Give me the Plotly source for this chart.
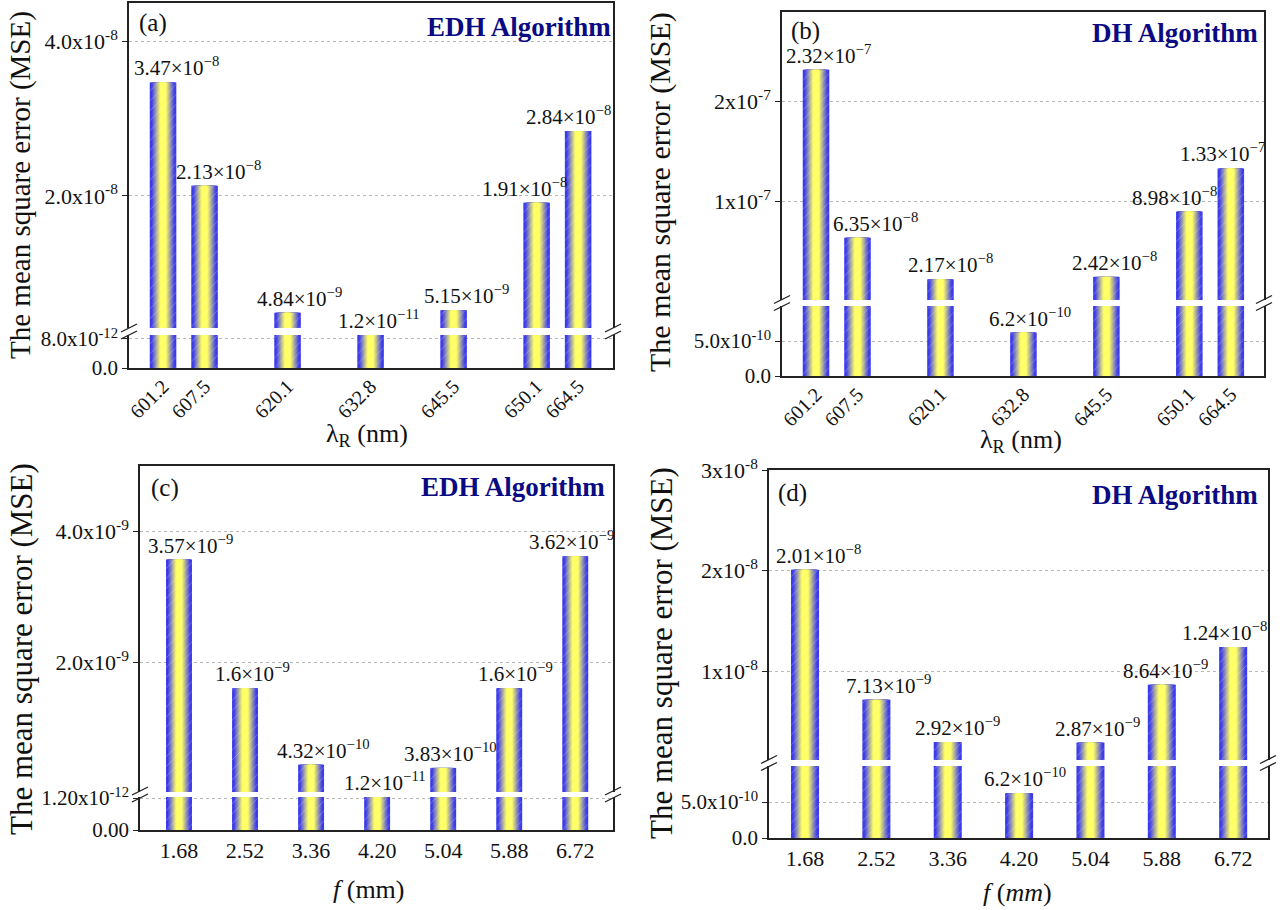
import math
import plotly.graph_objects as go

# ---------------- data ----------------
WAVELENGTH_LABELS = ["601.2", "607.5", "620.1", "632.8", "645.5", "650.1", "664.5"]
FOCAL_LENGTHS = [1.68, 2.52, 3.36, 4.20, 5.04, 5.88, 6.72]

MSE_EDH_WAVELENGTH = [3.47e-8, 2.13e-8, 4.84e-9, 1.2e-11, 5.15e-9, 1.91e-8, 2.84e-8]
MSE_DH_WAVELENGTH = [2.32e-7, 6.35e-8, 2.17e-8, 6.2e-10, 2.42e-8, 8.98e-8, 1.33e-7]
MSE_EDH_FOCAL = [3.57e-9, 1.6e-9, 4.32e-10, 1.2e-11, 3.83e-10, 1.6e-9, 3.62e-9]
MSE_DH_FOCAL = [2.01e-8, 7.13e-9, 2.92e-9, 6.2e-10, 2.87e-9, 8.64e-9, 1.24e-8]

YTICKS_A_UPPER = [2e-8, 4e-8]
YTEXT_A_UPPER = ["2.0x10<sup>-8</sup>", "4.0x10<sup>-8</sup>"]
YTICKS_A_LOWER = [0, 8e-12]
YTEXT_A_LOWER = ["0.0", "8.0x10<sup>-12</sup>"]

YTICKS_B_UPPER = [1e-7, 2e-7]
YTEXT_B_UPPER = ["1x10<sup>-7</sup>", "2x10<sup>-7</sup>"]
YTICKS_B_LOWER = [0, 5e-10]
YTEXT_B_LOWER = ["0.0", "5.0x10<sup>-10</sup>"]

YTICKS_C_UPPER = [2e-9, 4e-9]
YTEXT_C_UPPER = ["2.0x10<sup>-9</sup>", "4.0x10<sup>-9</sup>"]
YTICKS_C_LOWER = [0, 1.2e-12]
YTEXT_C_LOWER = ["0.00", "1.20x10<sup>-12</sup>"]

YTICKS_D_UPPER = [1e-8, 2e-8, 3e-8]
YTEXT_D_UPPER = ["1x10<sup>-8</sup>", "2x10<sup>-8</sup>", "3x10<sup>-8</sup>"]
YTICKS_D_LOWER = [0, 5e-10]
YTEXT_D_LOWER = ["0.0", "5.0x10<sup>-10</sup>"]

# ---------------- layout helpers ----------------
W, H = 1280, 910
FONT = "Liberation Serif"
NAVY = "#0a0a82"
BLUE = (58, 58, 238)
YELLOW = (255, 255, 100)

# wavelength bars sit on an uneven slot grid
WAVELENGTH_SLOTS = [0, 0.5, 1.5, 2.5, 3.5, 4.5, 5.0]


def px_x(p):
    return p / W


def px_y(p):
    return 1 - p / H


def value_label(v):
    e = math.floor(math.log10(v))
    m = v / 10 ** e
    return f"{m:.3g}\u00d710<sup>\u2212{-e}</sup>"


PANELS = [
    dict(tag="(a)", algo="EDH Algorithm", xs=WAVELENGTH_SLOTS, xtext=WAVELENGTH_LABELS,
         values=MSE_EDH_WAVELENGTH, box=(129, 613, 3, 368), lower_top=335, upper_bottom=328,
         lower_range=(0, 9.1e-12), upper_range=(2.86e-9, 4.5e-8),
         lower_ticks=(YTICKS_A_LOWER, YTEXT_A_LOWER), upper_ticks=(YTICKS_A_UPPER, YTEXT_A_UPPER),
         xrange=(-0.41, 5.42), bar_w=0.32, tickangle=-45, xtickfont=20, standoff=-3,
         label_dx=[13, 14, 12, 8, 13, -12, -10],
         xtitle="\u03bb<sub>R</sub> (nm)", xtitle_pos=(367, 435), ytitle_pos=(21, 185), yfont=29,
         grid="dot", tag_pos=(137, 23), algo_pos=(613, 27)),
    dict(tag="(b)", algo="DH Algorithm", xs=WAVELENGTH_SLOTS, xtext=WAVELENGTH_LABELS,
         values=MSE_DH_WAVELENGTH, box=(782, 1264, 12, 376), lower_top=306, upper_bottom=300,
         lower_range=(0, 1.0e-9), upper_range=(1.0e-9, 2.9e-7),
         lower_ticks=(YTICKS_B_LOWER, YTEXT_B_LOWER), upper_ticks=(YTICKS_B_UPPER, YTEXT_B_UPPER),
         xrange=(-0.41, 5.40), bar_w=0.32, tickangle=-45, xtickfont=20, standoff=-3,
         label_dx=[12, 18, 10, 7, 8, -15, -8],
         xtitle="\u03bb<sub>R</sub> (nm)", xtitle_pos=(1021, 441), ytitle_pos=(660, 192), yfont=30,
         grid="dot", tag_pos=(789, 31), algo_pos=(1260, 33)),
    dict(tag="(c)", algo="EDH Algorithm", xs=FOCAL_LENGTHS, xtext=[f"{f:.2f}" for f in FOCAL_LENGTHS],
         values=MSE_EDH_FOCAL, box=(140, 613, 466, 830), lower_top=797, upper_bottom=792,
         lower_range=(0, 1.24e-12), upper_range=(1.5e-11, 5.0e-9),
         lower_ticks=(YTICKS_C_LOWER, YTEXT_C_LOWER), upper_ticks=(YTICKS_C_UPPER, YTEXT_C_UPPER),
         xrange=(1.184, 7.20), bar_w=0.33, tickangle=0, xtickfont=22, standoff=0,
         label_dx=[11, 7, 12, 8, 7, 6, -4],
         xtitle="<i>f</i> (mm)", xtitle_pos=(369, 889), ytitle_pos=(21, 649), yfont=31,
         grid="dot", tag_pos=(149, 488), algo_pos=(607, 487)),
    dict(tag="(d)", algo="DH Algorithm", xs=FOCAL_LENGTHS, xtext=[f"{f:.2f}" for f in FOCAL_LENGTHS],
         values=MSE_DH_FOCAL, box=(769, 1268, 470, 838), lower_top=766, upper_bottom=760,
         lower_range=(0, 1.0e-9), upper_range=(1.14e-9, 3.003e-8),
         lower_ticks=(YTICKS_D_LOWER, YTEXT_D_LOWER), upper_ticks=(YTICKS_D_UPPER, YTEXT_D_UPPER),
         xrange=(1.256, 7.13), bar_w=0.33, tickangle=0, xtickfont=22, standoff=0,
         label_dx=[13, 12, 10, 6, 7, 4, -9],
         xtitle="<i>f</i> (<i>mm</i>)", xtitle_pos=(1017, 892), ytitle_pos=(661, 653), yfont=31,
         grid="3px,3px", tag_pos=(776, 493), algo_pos=(1260, 495)),
]

N_LAYERS = 14

fig = go.Figure()
layout = dict(width=W, height=H,
              margin=dict(l=0, r=0, t=0, b=0, pad=0, autoexpand=False),
              showlegend=False, paper_bgcolor="white", plot_bgcolor="white", barmode="overlay",
              font=dict(family=FONT, color="#111", size=20))
annotations = []
shapes = []


def axis_key(kind, n):
    return f"{kind}axis" if n == 1 else f"{kind}axis{n}"


def ref(kind, n):
    return kind if n == 1 else f"{kind}{n}"


for i, p in enumerate(PANELS):
    lo, up = 2 * i + 1, 2 * i + 2
    x0, x1, ytop, ybot = p["box"]
    xdom = [px_x(x0), px_x(x1)]
    lower_dom = [px_y(ybot), px_y(p["lower_top"])]
    upper_dom = [px_y(p["upper_bottom"]), px_y(ytop)]

    for n in (lo, up):
        # gradient body: nested bars from blue edges to a yellow core
        for k in range(N_LAYERS):
            t = 1 - k / N_LAYERS
            s = min(1.0, max(0.0, (t - 0.25) / 0.65))
            col = tuple(int(YELLOW[c] * (1 - s) + BLUE[c] * s) for c in range(3))
            fig.add_trace(go.Bar(
                x=p["xs"], y=p["values"], width=p["bar_w"] * t,
                marker=dict(color=f"rgb{col}", line=dict(width=0)),
                xaxis=ref("x", n), yaxis=ref("y", n), hoverinfo="skip"))
        # diagonal hatching on top
        fig.add_trace(go.Bar(
            x=p["xs"], y=p["values"], width=p["bar_w"],
            marker=dict(color="rgba(0,0,0,0)", line=dict(width=0),
                        pattern=dict(shape="/", fgcolor="rgba(255,255,255,0.6)",
                                     size=7, solidity=0.12)),
            xaxis=ref("x", n), yaxis=ref("y", n), hoverinfo="skip"))

    layout[axis_key("x", lo)] = dict(
        domain=xdom, anchor=ref("y", lo), range=list(p["xrange"]),
        tickvals=p["xs"], ticktext=p["xtext"], tickangle=p["tickangle"],
        tickfont=dict(family=FONT, size=p["xtickfont"], color="#111"),
        ticklabelstandoff=p["standoff"],
        showline=True, linecolor="#222", linewidth=1.5,
        mirror=False, showgrid=False, zeroline=False, ticks="")
    layout[axis_key("x", up)] = dict(
        domain=xdom, anchor=ref("y", up), matches=ref("x", lo), side="top",
        showticklabels=False, showline=True, linecolor="#222", linewidth=1.5,
        mirror=False, showgrid=False, zeroline=False, ticks="")
    for n, rng, (tv, tt), dom, fs in ((lo, p["lower_range"], p["lower_ticks"], lower_dom, 21),
                                      (up, p["upper_range"], p["upper_ticks"], upper_dom, 22)):
        layout[axis_key("y", n)] = dict(
            domain=dom, anchor=ref("x", n), range=list(rng),
            tickvals=tv, ticktext=tt, tickfont=dict(family=FONT, size=fs, color="#111"),
            showline=True, linecolor="#222", linewidth=1.5, mirror=True,
            ticks="outside", ticklen=5, tickcolor="#222",
            showgrid=True, gridcolor="#b8b8b8", griddash=p["grid"], gridwidth=1,
            zeroline=False)

    # value labels above each bar
    for x, v, dx in zip(p["xs"], p["values"], p["label_dx"]):
        if v >= p["upper_range"][0]:
            yr, yy = ref("y", up), v
        else:
            yr, yy = ref("y", lo), min(v, p["lower_range"][1])
        annotations.append(dict(x=x, y=yy, xref=ref("x", lo), yref=yr, text=value_label(v),
                                showarrow=False, yanchor="bottom", yshift=0, xshift=dx,
                                font=dict(family=FONT, size=21, color="#111")))

    # panel tag and algorithm name
    annotations.append(dict(x=px_x(p["tag_pos"][0]), y=px_y(p["tag_pos"][1]), xref="paper",
                            yref="paper", text=p["tag"], showarrow=False, xanchor="left",
                            yanchor="middle", font=dict(family=FONT, size=25, color="#111")))
    annotations.append(dict(x=px_x(p["algo_pos"][0]), y=px_y(p["algo_pos"][1]), xref="paper",
                            yref="paper", text=f"<b>{p['algo']}</b>", showarrow=False,
                            xanchor="right", yanchor="middle",
                            font=dict(family=FONT, size=27, color=NAVY)))
    # axis titles
    annotations.append(dict(x=px_x(p["xtitle_pos"][0]), y=px_y(p["xtitle_pos"][1]), xref="paper",
                            yref="paper", text=p["xtitle"], showarrow=False,
                            xanchor="center", yanchor="middle",
                            font=dict(family=FONT, size=26, color="#111")))
    annotations.append(dict(x=px_x(p["ytitle_pos"][0]), y=px_y(p["ytitle_pos"][1]), xref="paper",
                            yref="paper", text="The mean square error (MSE)", showarrow=False,
                            textangle=-90, xanchor="center", yanchor="middle",
                            font=dict(family=FONT, size=p["yfont"], color="#111")))

    # axis-break marks on both frame sides
    yb = (p["lower_top"] + p["upper_bottom"]) / 2
    for xa in (x0, x1):
        for dy in (-3.5, 3.5):
            shapes.append(dict(type="line", xref="paper", yref="paper",
                               x0=px_x(xa - 8), y0=px_y(yb + dy + 4),
                               x1=px_x(xa + 8), y1=px_y(yb + dy - 4),
                               line=dict(color="#222", width=1.3)))

layout["annotations"] = annotations
layout["shapes"] = shapes
fig.update_layout(**layout)
fig.write_html("out.html", post_script="document.body.style.margin='0';")
